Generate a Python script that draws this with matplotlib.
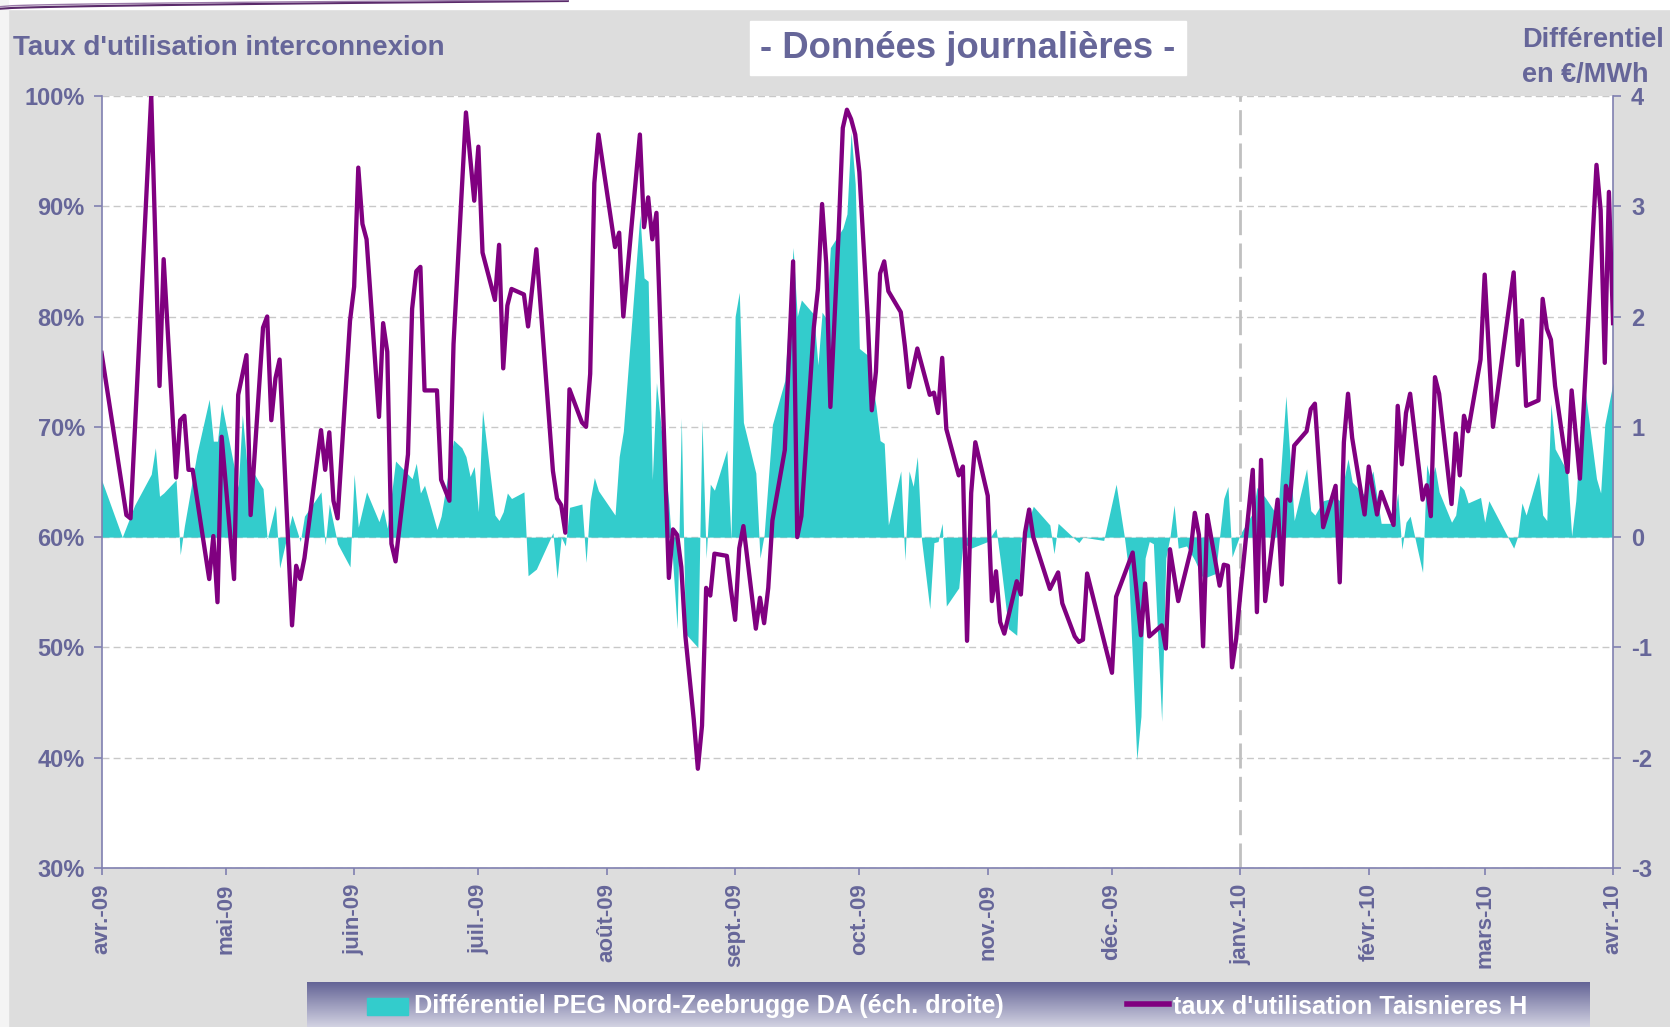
import matplotlib
matplotlib.use('Agg')
import matplotlib.pyplot as plt
from matplotlib.patches import Rectangle
from matplotlib.lines import Line2D
from matplotlib.colors import LinearSegmentedColormap
import numpy as np
import pandas as pd

plt.rcParams['font.family'] = ['Liberation Sans', 'DejaVu Sans']
plt.rcParams['axes.unicode_minus'] = False

# day offsets from 1 April 2009
start = pd.Timestamp('2009-04-01')

taux_days = [0, 6, 7, 12, 14, 15, 18, 19, 20, 21, 22, 26, 27, 28, 29,
             32, 33, 35, 36, 39, 40, 41, 42, 43, 46, 47, 48, 49, 53, 54, 55, 56, 57, 60,
             61, 62, 63, 64, 67, 68, 69, 70, 71, 74, 75, 76, 77, 78, 81, 82, 84, 85, 88, 90,
             91, 92, 95, 96, 97, 98, 99, 102, 103, 105, 109, 110, 111, 112, 113, 116, 117, 118, 119, 120,
             124, 125, 126, 130, 131, 132, 133, 134, 137, 138, 139, 140, 141, 143, 144, 145, 146, 147, 148, 151, 152,
             153, 154, 155, 158, 159, 160, 161, 162, 165, 167, 168, 169, 172, 173, 174, 175, 176, 178, 179, 180, 181, 182,
             183, 185, 186, 187, 188, 189, 190, 193, 194, 195, 197, 200, 201, 202, 203, 204, 207, 208, 209, 210, 211,
             214, 215, 216, 217, 218, 221, 222, 223, 224, 225, 229, 231, 232, 235, 236, 237, 238,
             244, 245, 249, 251, 252, 253, 256, 257, 258, 260, 263, 264, 265, 266, 267, 270, 271, 272, 273, 274,
             275, 278, 279, 280, 281, 284, 285, 286, 287, 288, 291, 292, 293, 295, 298, 299, 300, 301, 302, 305,
             306, 308, 309, 312, 313, 314, 315, 316, 319, 320, 321, 322, 323, 326, 327, 328, 329, 330, 333,
             334, 336, 341, 342, 343, 344, 347, 348, 349, 350, 351, 354, 355, 357, 361, 362, 363, 364, 365]
taux_vals = [76.7, 62.0, 61.7, 100.0, 73.7, 85.2, 65.4, 70.6, 71.0, 66.1, 66.1, 56.2, 60.1, 54.1, 69.1,
             56.2, 72.9, 76.5, 62.0, 79.0, 80.0, 70.6, 74.4, 76.1, 52.0, 57.4, 56.2, 58.1, 69.7, 66.1, 69.5, 63.3, 61.7, 79.6,
             82.7, 93.5, 88.4, 87.0, 70.9, 79.4, 76.8, 59.4, 57.8, 67.5, 80.7, 84.1, 84.5, 73.3, 73.3, 65.2, 63.3, 77.5, 98.5, 90.5,
             95.4, 85.8, 81.5, 86.5, 75.3, 81.0, 82.5, 82.0, 79.1, 86.1, 66.0, 63.5, 62.9, 60.4, 73.4, 70.4, 70.0, 74.8, 92.1, 96.5,
             86.3, 87.6, 80.0, 96.5, 88.1, 90.8, 87.0, 89.4, 56.3, 60.7, 60.2, 57.3, 51.0, 43.5, 39.0, 42.9, 55.4, 54.7, 58.5, 58.3, 55.2,
             52.5, 59.0, 61.0, 51.7, 54.5, 52.2, 55.4, 61.5, 67.9, 85.0, 60.0, 61.9, 79.0, 82.5, 90.2, 84.8, 71.8, 87.7, 97.1, 98.75, 97.9, 96.5,
             93.1, 80.0, 71.5, 75.0, 83.9, 85.0, 82.3, 80.4, 77.3, 73.6, 77.1, 72.9, 73.1, 71.25, 76.25, 69.8, 65.6, 66.4, 50.6, 64.0, 68.6,
             63.75, 54.2, 56.9, 52.3, 51.25, 56.0, 54.8, 60.4, 62.5, 60.0, 55.3, 56.8, 54.0, 51.0, 50.5, 50.7, 56.7,
             47.7, 54.6, 58.6, 51.1, 55.8, 51.0, 52.0, 49.9, 58.9, 54.2, 58.75, 62.2, 60.2, 50.1, 62.0, 55.6, 57.5, 57.4, 48.2, 50.8,
             54.9, 66.1, 53.2, 67.0, 54.2, 63.4, 55.7, 64.65, 63.3, 68.3, 69.6, 71.6, 72.1, 60.9, 64.65, 55.9, 68.6, 73.0, 69.0, 62.05,
             66.4, 62.05, 64.1, 61.1, 71.9, 66.6, 71.25, 73.0, 63.4, 64.7, 61.9, 74.5, 73.0, 63.0, 69.4, 65.6, 71.0, 69.6, 76.1,
             83.8, 70.0, 84.0, 75.6, 79.65, 71.9, 72.4, 81.6, 78.9, 77.9, 73.7, 65.9, 73.3, 65.3, 93.75, 89.65, 75.8, 91.3, 79.4]

diff_days = [0, 5, 8, 12, 13, 14, 15, 18, 19, 20, 23, 26, 27, 28, 29,
             33, 34, 35, 38, 39, 40, 42, 43, 46, 48, 49, 53, 54, 55, 57, 60,
             61, 62, 64, 67, 68, 69, 71, 75, 76, 77, 78, 81, 82, 85, 87, 88, 89, 90,
             91, 92, 95, 96, 97, 98, 99, 102, 103, 105, 109, 110, 111, 112, 113, 116, 117, 118, 119, 120,
             124, 125, 126, 130, 131, 132, 133, 134, 135, 137, 139, 140, 141, 144, 145, 146, 147, 148, 151, 152,
             153, 154, 155, 158, 159, 160, 162, 165, 167, 168, 169, 172, 173, 174, 175, 176, 179, 180, 181, 182,
             183, 185, 187, 188, 189, 190, 193, 194, 195, 196, 197, 198, 200, 201, 202, 203, 204, 207, 208, 210,
             214, 216, 217, 219, 221, 222, 225, 229, 230, 231, 236, 237, 242,
             245, 247, 248, 250, 251, 252, 253, 254, 256, 257, 258, 259, 260, 262, 264, 266, 269, 271, 272, 273,
             275, 278, 279, 281, 284, 286, 288, 291, 292, 293, 295, 298, 299, 301, 302, 305,
             307, 309, 312, 313, 314, 315, 316, 319, 320, 321, 322, 323, 326, 327, 328, 329, 330, 333,
             334, 335, 341, 342, 343, 344, 347, 348, 349, 350, 351, 354, 355, 356, 357, 358, 361, 362, 363, 365]
diff_vals = [0.52, 0.0, 0.29, 0.57, 0.81, 0.37, 0.40, 0.52, -0.16, 0.1, 0.75, 1.25, 0.87, 0.87, 1.21,
             0.45, 1.11, 0.7, 0.5, 0.44, -0.02, 0.29, -0.28, 0.20, -0.04, 0.19, 0.41, -0.07, 0.30, -0.06, -0.27,
             0.57, 0.09, 0.41, 0.14, 0.26, 0.08, 0.69, 0.53, 0.67, 0.40, 0.47, 0.07, 0.19, 0.88, 0.81, 0.73, 0.55, 0.64,
             0.23, 1.15, 0.20, 0.15, 0.23, 0.40, 0.35, 0.41, -0.35, -0.29, 0.04, -0.375, 0.0, -0.08, 0.27, 0.30, -0.23, 0.33, 0.54, 0.42,
             0.20, 0.73, 0.96, 2.92, 2.35, 2.32, 0.52, 1.40, 1.04, 0.3, -0.83, 1.08, -0.875, -1.0, 1.06, -0.19, 0.48, 0.425, 0.79, -0.02,
             2.0, 2.22, 1.04, 0.58, -0.19, 0.02, 1.02, 1.42, 2.625, 2.0, 2.15, 2.02, 1.56, 2.04, 1.98, 2.625, 2.80, 2.93, 3.67, 3.2,
             1.71, 1.65, 1.19, 0.875, 0.85, 0.11, 0.60, -0.21, 0.60, 0.46, 0.73, -0.02, -0.65, -0.05, -0.04, 0.125, -0.625, -0.46, -0.05, -0.10,
             -0.04, 0.08, -0.2, -0.83, -0.89, -0.05, 0.28, 0.11, -0.15, 0.125, -0.05, 0.0, -0.03,
             0.48, 0.0, -0.3, -2.02, -1.625, -0.19, -0.04, -0.06, -1.67, -0.19, 0.0, 0.29, -0.1, -0.08, -0.21, -0.375, -0.33, 0.35, 0.46, -0.18,
             0.03, 0.22, 0.45, 0.36, 0.19, 1.28, 0.15, 0.62, 0.24, 0.20, 0.33, 0.36, 0.33, 0.71, 0.5, 0.38,
             0.60, 0.125, 0.125, 0.4, -0.11, 0.135, 0.19, -0.32, 0.66, 0.5, 0.64, 0.41, 0.135, 0.2, 0.47, 0.43, 0.31, 0.36,
             0.135, 0.33, -0.10, 0.01, 0.31, 0.2, 0.59, 0.2, 0.15, 1.21, 0.80, 0.59, 0.01, 0.33, 0.88, 1.40, 0.53, 0.40, 1.02, 1.40]

month_labels = ['avr.-09', 'mai-09', 'juin-09', 'juil.-09', 'août-09', 'sept.-09', 'oct.-09',
                'nov.-09', 'déc.-09', 'janv.-10', 'févr.-10', 'mars-10', 'avr.-10']

taux_dates = start + pd.to_timedelta(taux_days, unit='D')
diff_dates = start + pd.to_timedelta(diff_days, unit='D')
months = pd.date_range('2009-04-01', '2010-04-01', freq='MS')

tc = '#666699'
axc = '#8080b0'

fig = plt.figure(figsize=(16.7, 10.27), dpi=100)
fig.patch.set_facecolor('#dddddd')

# white margin on top / left with the slide swoosh
fig.patches.append(Rectangle((0, 0.991), 1, 0.009, transform=fig.transFigure, color='white', zorder=0))
fig.patches.append(Rectangle((0, 0), 0.0045, 1, transform=fig.transFigure, color='#f4f4f4', zorder=0))
sx = np.linspace(0, 0.34, 50)
fig.lines.append(Line2D(sx, 0.9915 + 0.0075 * (sx / 0.34) ** 0.6, transform=fig.transFigure, color='#5a2a6a', lw=1.5))
fig.lines.append(Line2D(sx, 0.9935 + 0.0065 * (sx / 0.34) ** 0.5, transform=fig.transFigure, color='#9a7aa8', lw=1))

ax = fig.add_axes([0.0608, 0.1548, 0.9051, 0.7518])
ax2 = ax.twinx()

ax2.fill_between(diff_dates, diff_vals, 0, color='#33cccc', lw=0, zorder=2)
ax2.axvline(pd.Timestamp('2010-01-01'), color='#c0c0c0', lw=2, ls=(0, (9, 3)), zorder=2.5)
ax2.set_ylim(-3, 4)
ax2.set_yticks(range(-3, 5))
ax2.yaxis.grid(True, color='#c8c8c8', ls=(0, (5, 3)), lw=1)
ax2.set_axisbelow(True)
ax2.patch.set_visible(True)
ax2.patch.set_facecolor('white')

ax.plot(taux_dates, taux_vals, color='#800080', lw=3.1, solid_joinstyle='round')
ax.set_zorder(ax2.get_zorder() + 1)
ax.patch.set_visible(False)

ax.set_ylim(30, 100)
ax.set_yticks(range(30, 101, 10))
ax.set_yticklabels([f'{v}%' for v in range(30, 101, 10)])
ax.set_xlim(start, pd.Timestamp('2010-04-01'))
ax.set_xticks(months)
ax.set_xticklabels(month_labels, rotation=90)

for a in (ax, ax2):
    for s in a.spines.values():
        s.set_visible(False)
ax.spines['left'].set_visible(True)
ax.spines['bottom'].set_visible(True)
ax2.spines['right'].set_visible(True)
for s in (ax.spines['left'], ax.spines['bottom'], ax2.spines['right']):
    s.set_color(axc)
    s.set_linewidth(1.2)

ax.tick_params(axis='y', direction='out', length=6, width=1.2, color=axc, labelsize=17, labelcolor=tc, pad=6)
ax.tick_params(axis='x', direction='out', length=5, width=1.2, color=axc, labelsize=16, labelcolor=tc, pad=6)
ax2.tick_params(axis='y', direction='out', length=6, width=1.2, color=axc, labelsize=17, labelcolor=tc, pad=7)
for lab in ax.get_yticklabels() + ax.get_xticklabels() + ax2.get_yticklabels():
    lab.set_fontweight('bold')

# title box and axis captions
fig.patches.append(Rectangle((750 / 1670, 1 - 75 / 1027), 436 / 1670, 54 / 1027,
                             transform=fig.transFigure, color='white', zorder=1))
fig.text(968 / 1670, 1 - 48 / 1027, '- Données journalières -', ha='center', va='center',
         fontsize=26.3, fontweight='bold', color=tc, zorder=2)
fig.text(13 / 1670, 1 - 48 / 1027, "Taux d'utilisation interconnexion", ha='left', va='center',
         fontsize=20, fontweight='bold', color=tc)
fig.text(1522 / 1670, 1 - 40 / 1027, 'Différentiel', ha='left', va='center',
         fontsize=19.5, fontweight='bold', color=tc)
fig.text(1522 / 1670, 1 - 75 / 1027, 'en €/MWh', ha='left', va='center',
         fontsize=19.5, fontweight='bold', color=tc)

# legend strip
lax = fig.add_axes([307 / 1670, 0, (1590 - 307) / 1670, 45 / 1027])
grad = np.linspace(1, 0, 100).reshape(-1, 1)
cmap = LinearSegmentedColormap.from_list('leg', ['#d2d2e2', '#646496'])
lax.imshow(grad, aspect='auto', cmap=cmap, extent=[0, 1, 0, 1])
lax.axis('off')
ly = (1027 - 1006.5) / 1027
fig.patches.append(Rectangle((367 / 1670, (1027 - 1015) / 1027), 41 / 1670, 17 / 1027,
                             transform=fig.transFigure, color='#33cccc', zorder=3))
fig.text(414 / 1670, ly, 'Différentiel PEG Nord-Zeebrugge DA (éch. droite)', ha='left', va='center',
         fontsize=18.2, fontweight='bold', color='white', zorder=3)
fig.lines.append(Line2D([1127 / 1670, 1169 / 1670], [ly + 0.002, ly + 0.002], transform=fig.transFigure,
                        color='#800080', lw=4, zorder=3))
fig.text(1173 / 1670, ly, "taux d'utilisation Taisnieres H", ha='left', va='center',
         fontsize=18.2, fontweight='bold', color='white', zorder=3)

fig.savefig('out.png', dpi=100, facecolor=fig.get_facecolor())
